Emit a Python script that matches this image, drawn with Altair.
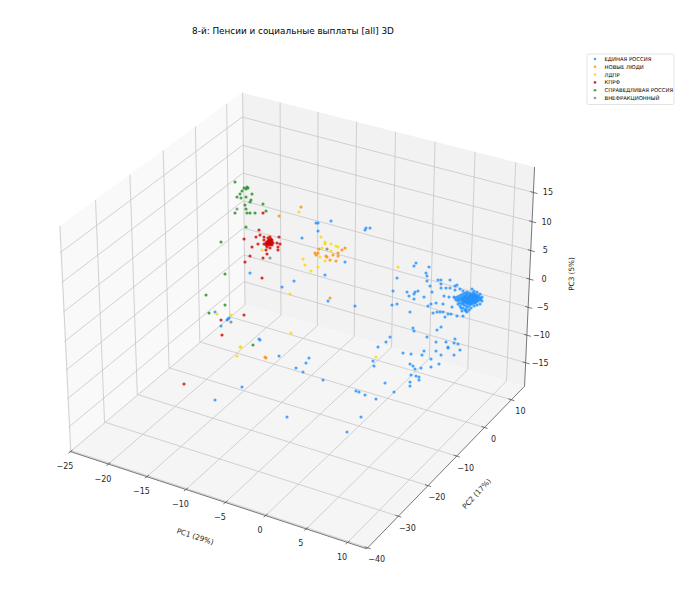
import numpy as np
import pandas as pd
import altair as alt

# ---- figure text ----
TITLE = "8-й: Пенсии и социальные выплаты [all] 3D"
PARTIES = ["ЕДИНАЯ РОССИЯ", "НОВЫЕ ЛЮДИ", "ЛДПР", "КПРФ", "СПРАВЕДЛИВАЯ РОССИЯ", "ВНЕФРАКЦИОННЫЙ"]
COLORS = ["#1E90FF", "#FF8C00", "#FFD700", "#CC0000", "#228B22", "#808080"]

# ---- axis ranges and ticks ----
x_lim = (-25.1, 12.3)
y_lim = (-40.3, 15.0)
z_lim = (-19.3, 19.3)
x_ticks = [-25, -20, -15, -10, -5, 0, 5, 10]
y_ticks = [-40, -30, -20, -10, 0, 10]
z_ticks = [-15, -10, -5, 0, 5, 10, 15]

# ---- the box corners: (low/high x, y, z) -> page position ----
box_corner_keys = [(0, 0, 0), (1, 0, 0), (1, 1, 0), (0, 1, 0), (0, 0, 1), (0, 1, 1), (1, 1, 1)]
box_corner_seen = [(69, 452), (367, 548), (524, 387), (247, 305), (58, 225), (241.7, 93), (534, 167)]

# ---- projected point positions ----
blue = [
    (250,273),(215,312),(227,320),(229,318),(228,319),(221,326),(259,339),(260,340),(279,356),(309,358),
    (306,363),(296,368),(303,372),(323,380),(356,391),(359,392),(242,387),(215,400),(287,417),(347,432),
    (328,301),(355,306),(316,223),(318,223),(331,221),(318,231),(302,238),(366,228),(370,228),(365,230),
    (345,262),(325,275),(294,281),(282,287),(416,263),(414,266),(429,267),(426,273),(427,276),(397,278),
    (427,281),(438,280),(441,280),(450,280),(441,284),(441,288),(446,288),(430,286),(432,292),(393,291),
    (407,292),(415,292),(418,291),(414,294),(409,296),(414,299),(424,297),(397,304),(392,305),(431,304),
    (436,303),(443,304),(428,306),(437,312),(433,313),(440,312),(410,312),(443,312),(445,317),(448,314),
    (451,314),(457,316),(463,316),(452,307),(413,328),(414,331),(441,327),(437,330),(427,337),(390,337),
    (386,342),(378,347),(436,342),(446,342),(455,339),(454,343),(458,344),(448,347),(448,348),(460,350),
    (436,351),(424,351),(403,353),(411,354),(422,355),(441,355),(454,355),(431,359),(444,296),(449,297),
    (454,297),(455,290),(460,289),(455,286),(457,285),(463,291),(467,292),(472,289),(461,308),(462,311),
    (467,312),(465,310),(450,288),(410,364),(413,366),(421,368),(415,369),(431,367),(439,364),(411,375),
    (416,376),(419,377),(419,380),(410,382),(410,386),(385,383),(394,392),(365,395),(376,399),(361,417),
    (374,366),(373,361),
    (455,298),(456,300),(457,297),(458,299),(458,301),(459,296),(460,298),(460,300),(460,303),(461,295),
    (462,297),(462,299),(462,301),(462,304),(463,294),(464,296),(464,298),(464,300),(464,302),(464,305),
    (465,293),(466,295),(466,297),(466,299),(466,301),(466,303),(466,306),(467,294),(468,296),(468,298),
    (468,300),(468,302),(468,304),(468,307),(469,293),(470,295),(470,297),(470,299),(470,301),(470,303),
    (470,305),(471,294),(472,296),(472,298),(472,300),(472,302),(472,304),(473,293),(474,295),(474,297),
    (474,299),(474,301),(474,303),(475,294),(476,296),(476,298),(476,300),(476,302),(477,295),(478,297),
    (478,299),(478,301),(479,296),(480,298),(480,300),(481,299),(458,304),(460,306),(463,308),(466,309),
    (474,291),(477,292),(480,294),(482,297),(482,301),(480,304),(477,305),(474,306),(471,308),(469,310),
    (466,311),(463,299),(465,297),(467,299),(469,297),(471,299),(473,297),(475,299),(477,297),(463,303),
    (465,301),(467,303),(469,301),(471,303),(473,301),(475,303),(477,301),(471,296),(473,295),(475,297),
]
orange = [
    (301,207),(279,216),(319,249),(315,253),(318,253),(316,255),(326,256),(327,257),(330,260),(333,255),
    (338,253),(338,256),(336,261),(342,250),(345,248),(330,298),(265,357),(266,358),
]
gold = [
    (299,212),(321,237),(325,242),(325,244),(331,244),(336,246),(338,247),(322,248),(331,251),(320,257),
    (325,261),(303,259),(305,265),(318,267),(311,271),(290,294),(398,267),(291,333),(376,357),(241,347),
    (240,347),(237,356),(231,315),(217,314),(269,236),(262,250),
]
red = [
    (259,230),(244,239),(256,237),(264,237),(264,240),(258,244),(264,244),(252,247),(279,237),(277,243),
    (280,244),(278,247),(278,250),(267,247),(266,250),(270,248),(267,254),(263,258),(250,256),(245,262),
    (262,278),(263,213),(268,238),(270,237),(269,240),(271,241),(267,242),(270,243),(272,242),(269,243),
    (271,244),(268,245),(272,245),(267,244),(273,243),(266,243),(244,315),(221,320),(222,335),(184,384),
    (260,235),(268,241),(270,240),(269,242),(271,239),(270,245),(268,243),(272,240),(266,245),
]
green = [
    (235,182),(244,188),(247,187),(248,188),(246,189),(242,191),(240,194),(252,194),(237,197),(241,198),
    (246,197),(251,200),(250,202),(245,205),(263,204),(246,209),(266,211),(235,213),(247,213),(250,213),
    (255,213),(246,227),(221,242),(225,274),(206,295),(225,305),(209,313),(253,345),
]
grey = [(237,209),(231,322),(270,258),(327,249)]
series = [blue, orange, gold, red, green, grey]

# ---- perspective camera of the 3D box ----
elev, azim = np.radians(30), np.radians(-60)
box = np.array([4, 4, 3], float)
box = box * 1.8294640721620434 * 25 / 24 / np.linalg.norm(box)
w = np.array([np.cos(elev) * np.cos(azim), np.cos(elev) * np.sin(azim), np.sin(elev)])
u = np.cross([0, 0, 1], w); u /= np.linalg.norm(u)
v = np.cross(w, u)
eye = box / 2 + 10 * w


def camera(x, y, z):
    p = np.array([(x - x_lim[0]) / (x_lim[1] - x_lim[0]),
                  (y - y_lim[0]) / (y_lim[1] - y_lim[0]),
                  (z - z_lim[0]) / (z_lim[1] - z_lim[0])]) * box - eye
    d = -p.dot(w)
    return p.dot(u) / d, p.dot(v) / d


cam = np.array([camera(x_lim[a], y_lim[b], z_lim[c]) for a, b, c in box_corner_keys])
seen = np.array(box_corner_seen)
fit_x = np.polyfit(cam[:, 0], seen[:, 0], 1)
fit_y = np.polyfit(cam[:, 1], seen[:, 1], 1)


def page(x, y, z):
    a, b = camera(x, y, z)
    return float(np.polyval(fit_x, a)), float(np.polyval(fit_y, b))


X0, X1 = x_lim
Y0, Y1 = y_lim
Z0, Z1 = z_lim

# ---- chart scales are the page itself ----
MARGIN = 8
W, H = 684, 594
sx = alt.Scale(domain=[MARGIN, MARGIN + W], range=[0, W], nice=False, zero=False)
sy = alt.Scale(domain=[MARGIN, MARGIN + H], range=[0, H], nice=False, zero=False)
ex = alt.X("x:Q", scale=sx, axis=None)
ey = alt.Y("y:Q", scale=sy, axis=None)
party_scale = alt.Scale(domain=PARTIES, range=COLORS)


def pane(corners, color):
    pts = [page(*c) for c in corners]
    xs = [p[0] for p in pts]
    closed = pts + pts[:1]
    rows = []
    for xv in sorted(set(xs)):
        hits = []
        for (a, b), (c, d) in zip(closed, closed[1:]):
            if min(a, c) <= xv <= max(a, c):
                hits += [b, d] if a == c else [b + (d - b) * (xv - a) / (c - a)]
        rows.append({"x": xv, "y": min(hits), "y2": max(hits)})
    return alt.Chart(pd.DataFrame(rows)).mark_area(color=color, opacity=1, interpolate="linear").encode(
        x=ex, y=ey, y2="y2:Q")


panes = [
    pane([(X0, Y0, Z0), (X0, Y1, Z0), (X0, Y1, Z1), (X0, Y0, Z1)], "#f9f9f9"),
    pane([(X0, Y1, Z0), (X1, Y1, Z0), (X1, Y1, Z1), (X0, Y1, Z1)], "#f2f2f2"),
    pane([(X0, Y0, Z0), (X1, Y0, Z0), (X1, Y1, Z0), (X0, Y1, Z0)], "#f5f5f5"),
]


def seg(a, b):
    p, q = page(*a), page(*b)
    return {"x": p[0], "y": p[1], "x2": q[0], "y2": q[1]}


grid_rows = []
for t in x_ticks:
    grid_rows += [seg((t, Y0, Z0), (t, Y1, Z0)), seg((t, Y1, Z0), (t, Y1, Z1))]
for t in y_ticks:
    grid_rows += [seg((X1, t, Z0), (X0, t, Z0)), seg((X0, t, Z0), (X0, t, Z1))]
for t in z_ticks:
    grid_rows += [seg((X0, Y0, t), (X0, Y1, t)), seg((X0, Y1, t), (X1, Y1, t))]
grid = alt.Chart(pd.DataFrame(grid_rows)).mark_rule(color="#c6c6c6", strokeWidth=0.8).encode(
    x=ex, y=ey, x2="x2:Q", y2="y2:Q")

axis_rows = [seg((X0, Y0, Z0), (X1, Y0, Z0)), seg((X1, Y0, Z0), (X1, Y1, Z0)), seg((X1, Y1, Z0), (X1, Y1, Z1))]
tick_rows, label_rows = [], []


def tick(pos, d0, d1, off, text):
    tick_rows.append({"x": pos[0] + d0[0], "y": pos[1] + d0[1], "x2": pos[0] + d1[0], "y2": pos[1] + d1[1]})
    label_rows.append({"x": pos[0] + off[0], "y": pos[1] + off[1], "text": text})


def fmt(t):
    return str(t).replace("-", "\u2212")


for t in x_ticks:
    tick(page(t, Y0, Z0), (2, -1.5), (-2, 1.5), (-5.5, 15.5), fmt(t))
for t in y_ticks:
    tick(page(X1, t, Z0), (-3, -1), (3, 1), (9, 12.5), fmt(t))
for t in z_ticks:
    tick(page(X1, Y1, t), (-3, -0.8), (4, 1.2), (14.5, 1), fmt(t))

axes = alt.Chart(pd.DataFrame(axis_rows + tick_rows)).mark_rule(color="#555555", strokeWidth=0.8).encode(
    x=ex, y=ey, x2="x2:Q", y2="y2:Q")
tick_text = alt.Chart(pd.DataFrame(label_rows)).mark_text(
    font="DejaVu Sans", fontSize=8, color="#262626", align="center", baseline="middle", opacity=0.99
).encode(x=ex, y=ey, text="text:N")


def free_text(text, x, y, size, angle=0, color="#262626"):
    return alt.Chart(pd.DataFrame([{"x": x, "y": y, "text": text}])).mark_text(
        font="DejaVu Sans", fontSize=size, color=color, align="center", baseline="middle", angle=angle,
        opacity=0.99
    ).encode(x=ex, y=ey, text="text:N")


texts = [
    free_text(TITLE, 293, 31, 8.85, color="#000000"),
    free_text("PC1 (29%)", 195, 537, 7.3, angle=18),
    free_text("PC2 (17%)", 477, 494, 7.3, angle=313),
    free_text("PC3 (5%)", 572, 274, 7.3, angle=270),
]

rows = []
for name, pts in zip(PARTIES, series):
    rows += [{"x": a, "y": b, "party": name, "order": PARTIES.index(name)} for a, b in pts]
points = alt.Chart(pd.DataFrame(rows)).mark_circle(size=10, opacity=0.8).encode(
    x=ex, y=ey,
    order="order:Q",
    color=alt.Color("party:N", scale=party_scale, legend=None),
)

# ---- legend, placed where the reference has it ----
LEG_LEFT, LEG_RIGHT, LEG_TOP, LEG_BOTTOM = 587, 674, 54, 104.5
LEG_FIRST_ROW, LEG_ROW_STEP = 59, 7.8
LEG_SYMBOL_X, LEG_TEXT_X = 595, 604.5
legend_box = alt.Chart(pd.DataFrame([{"x": LEG_LEFT, "x2": LEG_RIGHT, "y": LEG_TOP, "y2": LEG_BOTTOM}])).mark_rect(
    fill="#ffffff", stroke="#d0d0d0", strokeWidth=0.6, cornerRadius=1.5
).encode(x=ex, x2="x2:Q", y=ey, y2="y2:Q")
leg_rows = pd.DataFrame({
    "party": PARTIES,
    "sx": [LEG_SYMBOL_X] * len(PARTIES),
    "tx": [LEG_TEXT_X] * len(PARTIES),
    "y": [LEG_FIRST_ROW + LEG_ROW_STEP * i for i in range(len(PARTIES))],
})
legend_sym = alt.Chart(leg_rows).mark_circle(size=7, opacity=0.8).encode(
    x=alt.X("sx:Q", scale=sx, axis=None), y=ey,
    color=alt.Color("party:N", scale=party_scale, legend=None))
legend_txt = alt.Chart(leg_rows).mark_text(
    font="DejaVu Sans", fontSize=5.3, color="#000000", align="left", baseline="middle", opacity=0.99
).encode(x=alt.X("tx:Q", scale=sx, axis=None), y=ey, text="party:N")

chart = alt.layer(*panes, grid, axes, tick_text, *texts, points, legend_box, legend_sym, legend_txt).properties(
    width=W, height=H, padding=0, autosize=alt.AutoSizeParams(type="none")
).configure_view(stroke=None)

chart.save("out.html", embed_options={"renderer": "svg", "actions": False})
